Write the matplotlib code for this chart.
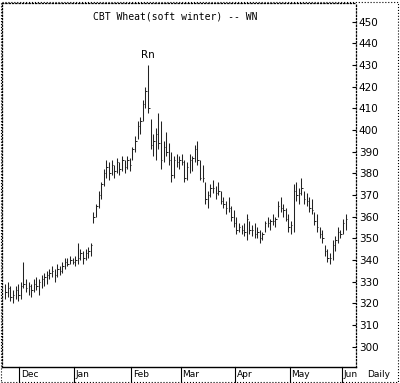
import matplotlib
matplotlib.use("Agg")
import matplotlib.pyplot as plt
from matplotlib.patches import Rectangle
import matplotlib.transforms as mtransforms

title = "CBT Wheat(soft winter) -- WN"
months = ["Dec", "Jan", "Feb", "Mar", "Apr", "May", "Jun"]
month_start_idx = [6, 27, 49, 68, 89, 110, 130]
yticks = [300, 310, 320, 330, 340, 350, 360, 370, 380, 390, 400, 410, 420, 430, 440, 450]

highs = [329, 330, 328, 326, 328, 329, 330, 339, 331, 330,
         329, 331, 332, 331, 333, 334, 335, 336, 337, 336,
         338, 337, 339, 341, 341, 342, 341, 342, 348, 345,
         344, 345, 346, 348, 362, 366, 372, 376, 382, 386,
         385, 386, 384, 387, 385, 388, 386, 388, 387, 392,
         397, 404, 406, 414, 420, 430, 405, 398, 401, 408,
         404, 395, 399, 394, 390, 388, 389, 388, 389, 386,
         385, 389, 388, 393, 395, 386, 384, 376, 372, 375,
         377, 374, 376, 372, 369, 367, 369, 365, 363, 360,
         357, 356, 357, 361, 358, 356, 357, 355, 354, 353,
         358, 360, 359, 361, 360, 367, 369, 366, 364, 361,
         358, 375, 376, 373, 378, 372, 371, 369, 368, 362,
         361, 355, 354, 347, 345, 343, 349, 351, 355, 354,
         359, 361]
lows = [322, 323, 321, 320, 322, 321, 322, 327, 325, 324,
        323, 325, 326, 324, 327, 328, 329, 331, 332, 330,
        332, 333, 334, 336, 337, 338, 338, 337, 338, 340,
        338, 340, 341, 342, 357, 360, 364, 368, 374, 378,
        377, 379, 378, 380, 379, 381, 380, 382, 381, 386,
        390, 396, 398, 404, 410, 408, 391, 388, 386, 391,
        382, 385, 388, 384, 376, 378, 383, 382, 384, 376,
        377, 380, 381, 385, 384, 377, 376, 366, 364, 369,
        371, 368, 370, 366, 364, 361, 362, 358, 355, 352,
        353, 352, 351, 349, 352, 351, 350, 350, 348, 349,
        353, 355, 354, 356, 355, 360, 362, 360, 358, 353,
        352, 353, 367, 366, 370, 366, 365, 362, 361, 356,
        353, 350, 348, 342, 339, 338, 340, 344, 348, 350,
        352, 354]
closes = [325, 327, 323, 324, 326, 324, 328, 329, 327, 328,
          326, 329, 328, 330, 331, 332, 333, 334, 335, 333,
          336, 335, 337, 339, 338, 340, 339, 340, 341, 343,
          341, 343, 344, 347, 360, 365, 370, 375, 380, 383,
          380, 384, 381, 385, 382, 386, 383, 386, 384, 391,
          395, 402, 404, 412, 418, 410, 393, 395, 398, 394,
          386, 392, 390, 386, 379, 386, 385, 386, 385, 378,
          383, 386, 387, 391, 386, 378, 378, 368, 370, 373,
          373, 371, 372, 367, 366, 364, 364, 360, 357, 354,
          355, 354, 353, 359, 354, 354, 352, 353, 350, 352,
          357, 357, 358, 358, 359, 365, 364, 363, 359, 355,
          356, 372, 370, 371, 373, 368, 367, 364, 363, 358,
          355, 352, 350, 344, 341, 341, 347, 349, 353, 352,
          357, 359]

fig = plt.figure(figsize=(4.0, 3.83), dpi=100)
fig.patch.set_facecolor("white")
ax = fig.add_axes([0.005, 0.042, 0.885, 0.95])

x = list(range(len(highs)))
ax.vlines(x, lows, highs, color="#222222", linewidth=0.75)
ax.hlines(closes, [i for i in x], [i + 0.55 for i in x], color="#222222", linewidth=0.7)

ax.set_xlim(-1.2, 135)
ax.set_ylim(290.6, 458.6)

ax.yaxis.tick_right()
ax.set_yticks(yticks)
ax.set_yticklabels([str(v) for v in yticks], fontsize=7.5, family="DejaVu Sans")
ax.tick_params(axis="y", direction="in", length=3, width=0.8, pad=2)
ax.set_xticks([])

for side in ["left", "right", "top"]:
    ax.spines[side].set_linestyle(":")
    ax.spines[side].set_linewidth(0.9)
ax.spines["bottom"].set_linewidth(1.0)

ax.text(0.49, 0.978, title, transform=ax.transAxes, ha="center", va="top",
        fontsize=7, family="DejaVu Sans Mono")
ax.annotate("Rn", xy=(55, highs[55]), xytext=(55, highs[55] + 2.5),
            ha="center", va="bottom", fontsize=7.5, family="DejaVu Sans")

trans = mtransforms.blended_transform_factory(ax.transData, ax.transAxes)
for m, s in zip(months, month_start_idx):
    xs = s - 0.5
    ax.plot([xs, xs], [0, -0.045], transform=trans, color="black",
            linewidth=0.8, clip_on=False)
    ax.text(xs + 0.6, -0.022, m, transform=trans, ha="left", va="center",
            fontsize=6.5, family="DejaVu Sans")

ax.text(1.065, -0.022, "Daily", transform=ax.transAxes, ha="center", va="center",
        fontsize=6.5, family="DejaVu Sans")

fig.patches.append(Rectangle((0.002, 0.002), 0.993, 0.993, transform=fig.transFigure,
                             fill=False, edgecolor="black", linewidth=0.8, linestyle=":"))

fig.savefig("out.png", dpi=100, facecolor="white")
